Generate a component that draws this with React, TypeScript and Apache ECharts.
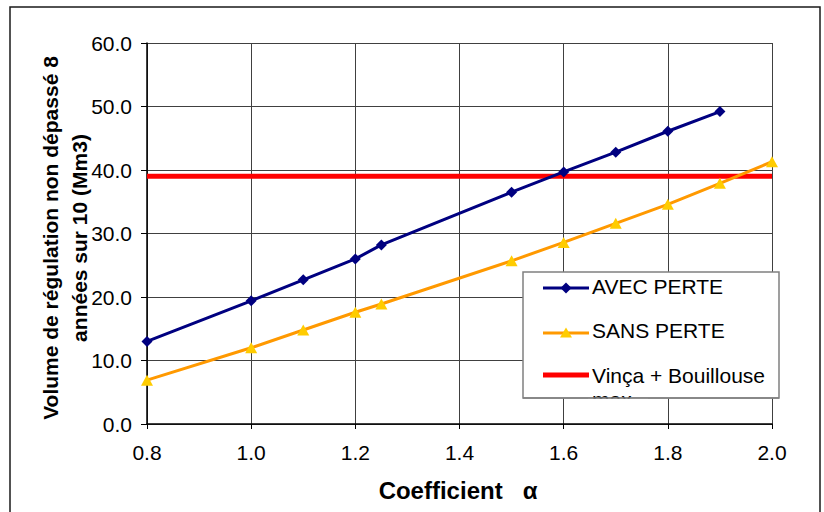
import React, { useEffect, useRef } from "react";
import * as echarts from "echarts";

// Data
const alphaValues = [0.8, 1.0, 1.1, 1.2, 1.25, 1.5, 1.6, 1.7, 1.8, 1.9, 2.0];
const avecPerte = [13.0, 19.4, 22.7, 26.0, 28.2, 36.5, 39.7, 42.8, 46.1, 49.2];
const sansPerte = [6.9, 12.0, 14.8, 17.6, 18.9, 25.7, 28.6, 31.6, 34.6, 37.9, 41.3];
const vincaX = [0.8, 2.0];
const vincaY = [39.0, 39.0];
const seriesNames = ["AVEC PERTE", "SANS PERTE", "Vinça + Bouillouse max"];
const xTitle = "Coefficient\u00a0\u00a0\u00a0α";
const yTitleLines = ["Volume de régulation non dépassé 8", "années sur 10 (Mm3)"];

const FONT = '"Liberation Sans", Arial, sans-serif';
const NAVY = "#000080";
const ORANGE = "#FF9900";
const GOLD = "#FFCC00";
const RED = "#FF0000";

export default function App() {
  const ref = useRef<HTMLDivElement>(null);

  useEffect(() => {
    document.body.style.margin = "0";
    if (!ref.current) return;
    const chart = echarts.init(ref.current, undefined, { renderer: "svg" });

    const avecData = avecPerte.map((v, i) => [alphaValues[i], v]);
    const sansData = sansPerte.map((v, i) => [alphaValues[i], v]);
    const vincaData = vincaX.map((x, i) => [x, vincaY[i]]);

    const lg = { x: 523, y: 272, w: 256, h: 126 };
    const lineX1 = 543;
    const lineX2 = 589;
    const symX = 566;
    const textX = 592;
    const rows = [287, 331, 375];
    const vincaParts = seriesNames[2].split(" max");
    const legendFont = `21px ${FONT}`;

    const option: any = {
      animation: false,
      backgroundColor: "#ffffff",
      textStyle: { fontFamily: FONT },
      grid: { left: 147, right: 52, top: 43, bottom: 88, containLabel: false },
      xAxis: {
        type: "value",
        min: 0.8,
        max: 2.0,
        interval: 0.2,
        axisLine: { show: true, onZero: false, lineStyle: { color: "#000", width: 1.5 } },
        axisTick: { show: true, length: 5, lineStyle: { color: "#000" } },
        axisLabel: {
          show: true,
          margin: 18,
          fontSize: 21,
          color: "#000",
          fontFamily: FONT,
          formatter: (v: number) => v.toFixed(1),
        },
        splitLine: { show: true, lineStyle: { color: "#404040", width: 1 } },
      },
      yAxis: {
        type: "value",
        min: 0,
        max: 60,
        interval: 10,
        axisLine: { show: true, lineStyle: { color: "#000", width: 1.5 } },
        axisTick: { show: true, length: 6, lineStyle: { color: "#000" } },
        axisLabel: {
          show: true,
          margin: 15,
          fontSize: 21,
          color: "#000",
          fontFamily: FONT,
          formatter: (v: number) => v.toFixed(1),
        },
        splitLine: { show: true, lineStyle: { color: "#404040", width: 1 } },
      },
      series: [
        {
          name: seriesNames[2],
          type: "line",
          data: vincaData,
          showSymbol: false,
          symbol: "none",
          lineStyle: { color: RED, width: 5 },
          itemStyle: { color: RED },
          z: 2,
        },
        {
          name: seriesNames[0],
          type: "line",
          data: avecData,
          symbol: "diamond",
          symbolSize: [11, 11],
          lineStyle: { color: NAVY, width: 3 },
          itemStyle: { color: NAVY },
          z: 3,
        },
        {
          name: seriesNames[1],
          type: "line",
          data: sansData,
          symbol: "triangle",
          symbolSize: [12, 11],
          lineStyle: { color: ORANGE, width: 3 },
          itemStyle: { color: GOLD },
          z: 3,
        },
      ],
      graphic: [
        {
          type: "rect",
          shape: { x: 10, y: 7, width: 810, height: 530 },
          style: { fill: "none", stroke: "#1a1a1a", lineWidth: 1.5 },
          silent: true,
          z: 50,
        },
        {
          type: "text",
          x: 65,
          y: 238,
          rotation: Math.PI / 2,
          style: {
            text: yTitleLines.join("\n"),
            font: `bold 21px ${FONT}`,
            fill: "#000",
            textAlign: "center",
            textVerticalAlign: "middle",
            lineHeight: 29,
          },
          z: 50,
        },
        {
          type: "text",
          x: 458,
          y: 490,
          style: {
            text: xTitle,
            font: `bold 24px ${FONT}`,
            fill: "#000",
            textAlign: "center",
            textVerticalAlign: "middle",
          },
          z: 50,
        },
        // Legend box
        {
          type: "rect",
          shape: { x: lg.x, y: lg.y, width: lg.w, height: lg.h },
          style: { fill: "#fff", stroke: "#808080", lineWidth: 1.5 },
          z: 100,
        },
        {
          type: "line",
          shape: { x1: lineX1, y1: rows[0] + 1, x2: lineX2, y2: rows[0] + 1 },
          style: { stroke: NAVY, lineWidth: 3 },
          z: 101,
        },
        {
          type: "polygon",
          shape: {
            points: [
              [symX, rows[0] + 1 - 5.5],
              [symX + 5.5, rows[0] + 1],
              [symX, rows[0] + 1 + 5.5],
              [symX - 5.5, rows[0] + 1],
            ],
          },
          style: { fill: NAVY },
          z: 102,
        },
        {
          type: "text",
          x: textX,
          y: rows[0] - 1,
          style: {
            text: seriesNames[0],
            font: legendFont,
            fill: "#000",
            textAlign: "left",
            textVerticalAlign: "middle",
          },
          z: 101,
        },
        {
          type: "line",
          shape: { x1: lineX1, y1: rows[1] + 2, x2: lineX2, y2: rows[1] + 2 },
          style: { stroke: ORANGE, lineWidth: 3 },
          z: 101,
        },
        {
          type: "polygon",
          shape: {
            points: [
              [symX, rows[1] + 2 - 5.5],
              [symX + 6, rows[1] + 2 + 4.5],
              [symX - 6, rows[1] + 2 + 4.5],
            ],
          },
          style: { fill: GOLD },
          z: 102,
        },
        {
          type: "text",
          x: textX,
          y: rows[1] - 1,
          style: {
            text: seriesNames[1],
            font: legendFont,
            fill: "#000",
            textAlign: "left",
            textVerticalAlign: "middle",
          },
          z: 101,
        },
        {
          type: "line",
          shape: { x1: lineX1, y1: rows[2], x2: lineX2, y2: rows[2] },
          style: { stroke: RED, lineWidth: 5 },
          z: 101,
        },
        {
          type: "text",
          x: textX,
          y: rows[2],
          style: {
            text: vincaParts[0],
            font: legendFont,
            fill: "#000",
            textAlign: "left",
            textVerticalAlign: "middle",
          },
          z: 101,
        },
        {
          type: "text",
          x: textX,
          y: rows[2] + 24,
          style: {
            text: "max",
            font: legendFont,
            fill: "#000",
            textAlign: "left",
            textVerticalAlign: "middle",
          },
          z: 101,
        },
        // clip the overflowing second line below the legend border
        {
          type: "rect",
          shape: { x: 588, y: lg.y + lg.h + 0.8, width: 60, height: 18 },
          style: { fill: "#fff" },
          z: 103,
        },
        {
          type: "line",
          shape: { x1: lg.x, y1: lg.y + lg.h, x2: lg.x + lg.w, y2: lg.y + lg.h },
          style: { stroke: "#808080", lineWidth: 1.5 },
          z: 104,
        },
      ],
    };

    chart.setOption(option);
    return () => {
      chart.dispose();
    };
  }, []);

  return <div ref={ref} style={{ width: 824, height: 512 }} />;
}
